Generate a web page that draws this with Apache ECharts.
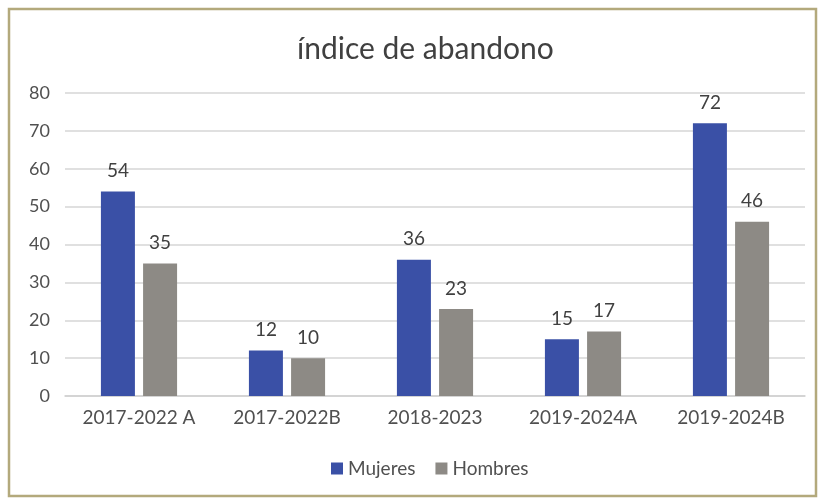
<!DOCTYPE html>
<html><head><meta charset="utf-8">
<script src="https://cdn.jsdelivr.net/npm/echarts@6/dist/echarts.min.js"></script>
<style>html,body{margin:0;padding:0;background:#fff}#c{width:820px;height:500px}</style>
</head><body><div id="c"></div>
<script>
const categories = ['2017-2022 A','2017-2022B','2018-2023','2019-2024A','2019-2024B'];
const mujeres = [54, 12, 36, 15, 72];
const hombres = [35, 10, 23, 17, 46];
const yTicks = {min: 0, max: 80, interval: 10};
const FONT = 'Lato';
const chart = echarts.init(document.getElementById('c'), null, {renderer:'canvas'});
const lbl = {show:true, position:'top', distance:11, color:'#404040', fontSize:19, fontFamily:FONT};
chart.setOption({
  animation:false,
  backgroundColor:'#fff',
  graphic:[{type:'rect', shape:{x:9,y:9,width:807,height:487}, style:{fill:'none', stroke:'#b3a97c', lineWidth:2.5}}],
  title:{text:'índice de abandono', left:292, top:29, textStyle:{fontFamily:FONT, fontSize:30, fontWeight:'normal', color:'#404040'}},
  legend:{top:454, left:326, itemWidth:12, itemHeight:12, itemGap:20, icon:'rect', textStyle:{fontFamily:FONT, fontSize:19, color:'#505050'}, data:['Mujeres','Hombres']},
  grid:{left:65, right:15, top:93, bottom:104},
  xAxis:{type:'category', data:categories, axisTick:{show:false}, axisLine:{lineStyle:{color:'#d0d0d0', width:1.5}}, axisLabel:{fontFamily:FONT, fontSize:19, color:'#505050', margin:12}},
  yAxis:{type:'value', min:yTicks.min, max:yTicks.max, interval:yTicks.interval, axisLine:{show:false}, axisTick:{show:false}, splitLine:{lineStyle:{color:'#d6d6d6', width:1.5}}, axisLabel:{fontFamily:FONT, fontSize:18, color:'#505050', margin:15, align:'right'}},
  series:[
    {name:'Mujeres', type:'bar', data:mujeres, barWidth:34, barGap:'24%', itemStyle:{color:'#3a50a6'}, label:lbl},
    {name:'Hombres', type:'bar', data:hombres, barWidth:34, itemStyle:{color:'#8d8a85'}, label:lbl}
  ]
});
</script></body></html>
